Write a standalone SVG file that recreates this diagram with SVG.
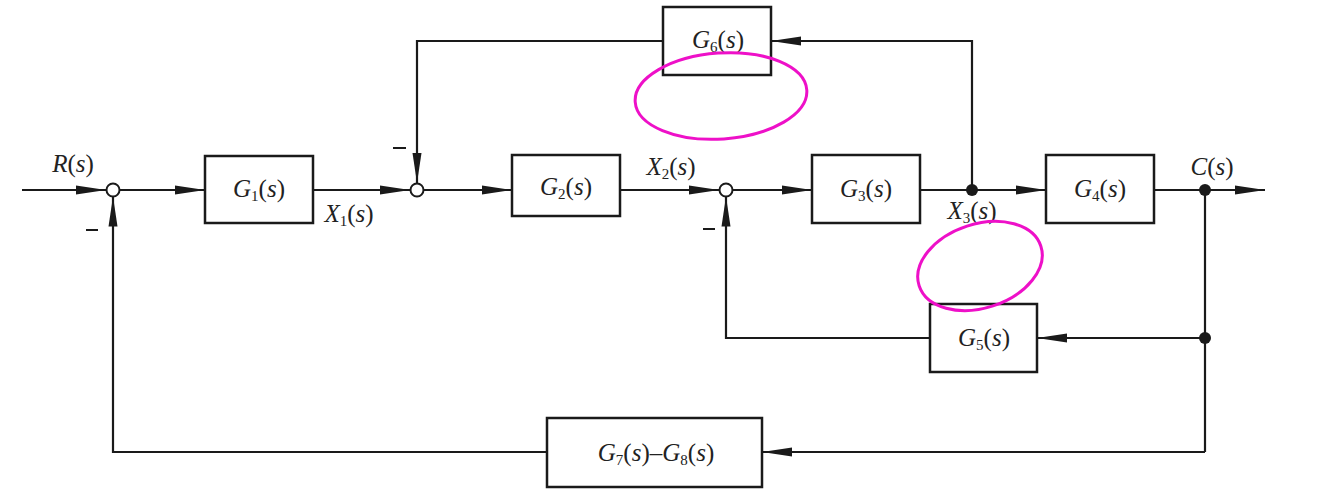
<svg xmlns="http://www.w3.org/2000/svg" width="1320" height="500" viewBox="0 0 1320 500">
<style>
.box{fill:#fff;stroke:#1a1a1a;stroke-width:2.5}
.ln{fill:none;stroke:#1a1a1a;stroke-width:2.2}
.arr{marker-end:url(#ah)}
.sum{fill:#fff;stroke:#1a1a1a;stroke-width:2}
.dot{fill:#1a1a1a}
text{font-family:"Liberation Serif","Times New Roman",serif;font-size:25px;fill:#222}
.i{font-style:italic}
.sb{font-size:15px}
.mark{fill:none;stroke:#ee10c8;stroke-width:3}
</style>
<defs>
<marker id="ah" viewBox="0 0 30 10" refX="30" refY="5" markerWidth="30" markerHeight="10" markerUnits="userSpaceOnUse" orient="auto">
<path d="M0,0.5 L30,5 L0,9.5 Z" fill="#1a1a1a"/>
</marker>
</defs>
<rect width="1320" height="500" fill="#fff"/>
<g id="connectors">
<path class="ln arr" d="M22,190 L106,190"/>
<path class="ln arr" d="M119.5,190 L205,190"/>
<path class="ln arr" d="M313,190 L410,190"/>
<path class="ln arr" d="M423.5,190 L512,190"/>
<path class="ln arr" d="M620,190 L719,190"/>
<path class="ln arr" d="M732.5,190 L812,190"/>
<path class="ln" d="M920,190 L972,190"/>
<path class="ln arr" d="M972,190 L1046,190"/>
<path class="ln" d="M1154,190 L1205,190"/>
<path class="ln arr" d="M1205,190 L1265,190"/>
<path class="ln arr" d="M972,190 L972,41 L771,41"/>
<path class="ln arr" d="M663,41 L417,41 L417,183"/>
<path class="ln" d="M1205,190 L1205,452"/>
<path class="ln arr" d="M1205,338 L1037,338"/>
<path class="ln arr" d="M930,338 L726,338 L726,196.5"/>
<path class="ln arr" d="M1205,452 L762,452"/>
<path class="ln arr" d="M547,452 L113,452 L113,196.5"/>
</g>
<g id="sum1"><circle class="sum" cx="113" cy="190" r="6.5"/></g>
<g id="sum2"><circle class="sum" cx="417" cy="190" r="6.5"/></g>
<g id="sum3"><circle class="sum" cx="726" cy="190" r="6.5"/></g>
<g id="pickX3"><circle class="dot" cx="972" cy="190" r="6"/></g>
<g id="pickC"><circle class="dot" cx="1205" cy="190" r="6"/></g>
<g id="pickC2"><circle class="dot" cx="1205" cy="338" r="6"/></g>
<g id="G1"><rect class="box" x="205" y="156" width="108" height="67"/>
<text x="259" y="197" text-anchor="middle"><tspan class="i">G</tspan><tspan class="sb" dy="4">1</tspan><tspan dy="-4">(</tspan><tspan class="i">s</tspan>)</text></g>
<g id="G2"><rect class="box" x="512" y="155" width="108" height="61"/>
<text x="566" y="195" text-anchor="middle"><tspan class="i">G</tspan><tspan class="sb" dy="4">2</tspan><tspan dy="-4">(</tspan><tspan class="i">s</tspan>)</text></g>
<g id="G3"><rect class="box" x="812" y="155" width="108" height="68"/>
<text x="866" y="197" text-anchor="middle"><tspan class="i">G</tspan><tspan class="sb" dy="4">3</tspan><tspan dy="-4">(</tspan><tspan class="i">s</tspan>)</text></g>
<g id="G4"><rect class="box" x="1046" y="155" width="108" height="68"/>
<text x="1100" y="197" text-anchor="middle"><tspan class="i">G</tspan><tspan class="sb" dy="4">4</tspan><tspan dy="-4">(</tspan><tspan class="i">s</tspan>)</text></g>
<g id="G6"><rect class="box" x="663" y="7" width="108" height="68"/>
<text x="718" y="48" text-anchor="middle"><tspan class="i">G</tspan><tspan class="sb" dy="4">6</tspan><tspan dy="-4">(</tspan><tspan class="i">s</tspan>)</text></g>
<g id="G5"><rect class="box" x="930" y="304" width="107" height="68"/>
<text x="984" y="346" text-anchor="middle"><tspan class="i">G</tspan><tspan class="sb" dy="4">5</tspan><tspan dy="-4">(</tspan><tspan class="i">s</tspan>)</text></g>
<g id="G78"><rect class="box" x="547" y="418" width="215" height="69"/>
<text x="656" y="461" text-anchor="middle" font-size="23"><tspan class="i">G</tspan><tspan class="sb" dy="4">7</tspan><tspan dy="-4">(</tspan><tspan class="i">s</tspan>)–<tspan class="i">G</tspan><tspan class="sb" dy="4">8</tspan><tspan dy="-4">(</tspan><tspan class="i">s</tspan>)</text></g>
<g id="labels">
<text x="73" y="172" text-anchor="middle"><tspan class="i">R</tspan>(<tspan class="i">s</tspan>)</text>
<text x="349" y="222" text-anchor="middle"><tspan class="i">X</tspan><tspan class="sb" dy="4">1</tspan><tspan dy="-4">(</tspan><tspan class="i">s</tspan>)</text>
<text x="671" y="175" text-anchor="middle"><tspan class="i">X</tspan><tspan class="sb" dy="4">2</tspan><tspan dy="-4">(</tspan><tspan class="i">s</tspan>)</text>
<text x="972" y="219" text-anchor="middle"><tspan class="i">X</tspan><tspan class="sb" dy="4">3</tspan><tspan dy="-4">(</tspan><tspan class="i">s</tspan>)</text>
<text x="1212" y="175" text-anchor="middle"><tspan class="i">C</tspan>(<tspan class="i">s</tspan>)</text>
<path class="ln" d="M86,230 L98,230 M393,148 L406,148 M703,229 L715,229"/>
</g>
<g id="annotations">
<ellipse class="mark" cx="721" cy="96" rx="86" ry="43" transform="rotate(-4 721 96)"/>
<ellipse class="mark" cx="980" cy="266" rx="64" ry="42" transform="rotate(-18 980 266)"/>
</g>
</svg>
